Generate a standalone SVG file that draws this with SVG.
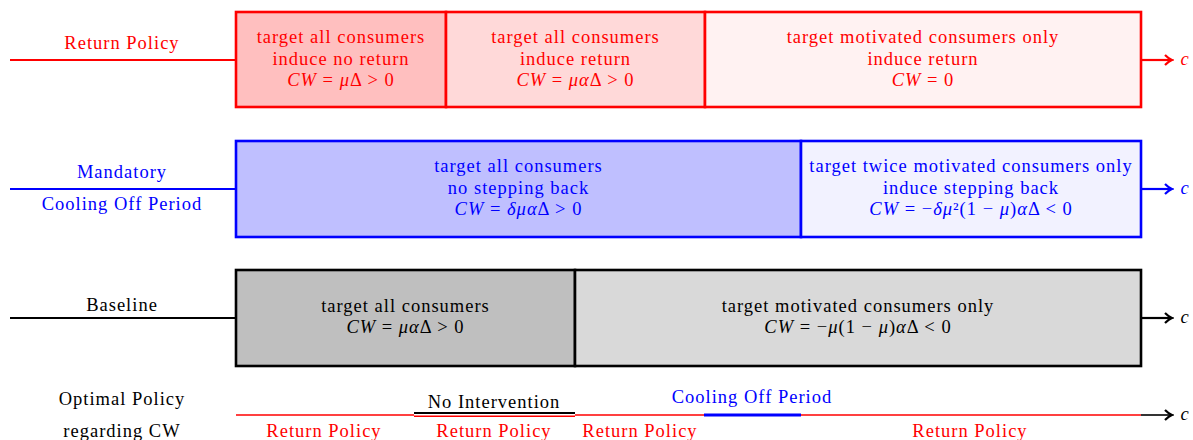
<svg xmlns="http://www.w3.org/2000/svg" width="1193" height="440" viewBox="0 0 1193 440">
<defs>
<marker id="arrR" markerWidth="10" markerHeight="12" refX="7" refY="6" orient="auto" markerUnits="userSpaceOnUse"><path d="M1,1 Q5,5 8,6 Q5,7 1,11" fill="none" stroke="#ff0000" stroke-width="2.2"/></marker>
<marker id="arrB" markerWidth="10" markerHeight="12" refX="7" refY="6" orient="auto" markerUnits="userSpaceOnUse"><path d="M1,1 Q5,5 8,6 Q5,7 1,11" fill="none" stroke="#0000ff" stroke-width="2.2"/></marker>
<marker id="arrK" markerWidth="10" markerHeight="12" refX="7" refY="6" orient="auto" markerUnits="userSpaceOnUse"><path d="M1,1 Q5,5 8,6 Q5,7 1,11" fill="none" stroke="#000000" stroke-width="2.2"/></marker>
</defs>
<style>
text{font-family:"Liberation Serif","Times New Roman",serif;font-size:18.5px;text-anchor:middle;letter-spacing:1px}
.r{fill:#ff0000}.b{fill:#0000ff}.k{fill:#000000}
.i{font-style:italic}
.box{stroke-width:2.6}
.rb{stroke:#ff0000}.bb{stroke:#0000ff}.kb{stroke:#000000}
</style>
<g id="connectors" fill="none">
<line x1="10" y1="60" x2="236" y2="60" stroke="#ff0000" stroke-width="2.2"/>
<line x1="1141" y1="60" x2="1171" y2="60" stroke="#ff0000" stroke-width="2.2" marker-end="url(#arrR)"/>
<line x1="10" y1="189" x2="236" y2="189" stroke="#0000ff" stroke-width="2.2"/>
<line x1="1141" y1="189" x2="1171" y2="189" stroke="#0000ff" stroke-width="2.2" marker-end="url(#arrB)"/>
<line x1="10" y1="318" x2="236" y2="318" stroke="#000000" stroke-width="2.2"/>
<line x1="1141" y1="318" x2="1171" y2="318" stroke="#000000" stroke-width="2.2" marker-end="url(#arrK)"/>
</g>
<g id="row-return">
<text class="r" x="122" y="49">Return Policy</text>
<g id="r1"><rect class="box rb" x="236" y="12" width="210" height="95" fill="#ffbfbf"/>
<text class="r" x="341" y="43">target all consumers</text>
<text class="r" x="341" y="65">induce no return</text>
<text class="r" x="341" y="86"><tspan class="i">CW</tspan> = <tspan class="i">μ</tspan>Δ &gt; 0</text></g>
<g id="r2"><rect class="box rb" x="446" y="12" width="259" height="95" fill="#ffd9d9"/>
<text class="r" x="575.5" y="43">target all consumers</text>
<text class="r" x="575.5" y="65">induce return</text>
<text class="r" x="575.5" y="86"><tspan class="i">CW</tspan> = <tspan class="i">μα</tspan>Δ &gt; 0</text></g>
<g id="r3"><rect class="box rb" x="705" y="12" width="436" height="95" fill="#fff2f2"/>
<text class="r" x="923" y="43">target motivated consumers only</text>
<text class="r" x="923" y="65">induce return</text>
<text class="r" x="923" y="86"><tspan class="i">CW</tspan> = 0</text></g>
<text class="r i" x="1185" y="65">c</text>
</g>
<g id="row-cooling">
<text class="b" x="122" y="178">Mandatory</text>
<text class="b" x="122" y="210">Cooling Off Period</text>
<g id="b1"><rect class="box bb" x="236" y="141" width="565" height="96" fill="#bfbfff"/>
<text class="b" x="518.5" y="172">target all consumers</text>
<text class="b" x="518.5" y="194">no stepping back</text>
<text class="b" x="518.5" y="215"><tspan class="i">CW</tspan> = <tspan class="i">δμα</tspan>Δ &gt; 0</text></g>
<g id="b2"><rect class="box bb" x="801" y="141" width="340" height="96" fill="#f2f2ff"/>
<text class="b" x="971" y="172">target twice motivated consumers only</text>
<text class="b" x="971" y="194">induce stepping back</text>
<text class="b" x="971" y="215"><tspan class="i">CW</tspan> = −<tspan class="i">δμ</tspan>²(1 − <tspan class="i">μ</tspan>)<tspan class="i">α</tspan>Δ &lt; 0</text></g>
<text class="b i" x="1185" y="194">c</text>
</g>
<g id="row-baseline">
<text class="k" x="122" y="311">Baseline</text>
<g id="k1"><rect class="box kb" x="236" y="270" width="339" height="96" fill="#bfbfbf"/>
<text class="k" x="405.5" y="312">target all consumers</text>
<text class="k" x="405.5" y="333"><tspan class="i">CW</tspan> = <tspan class="i">μα</tspan>Δ &gt; 0</text></g>
<g id="k2"><rect class="box kb" x="575" y="270" width="566" height="96" fill="#d9d9d9"/>
<text class="k" x="858" y="312">target motivated consumers only</text>
<text class="k" x="858" y="333"><tspan class="i">CW</tspan> = −<tspan class="i">μ</tspan>(1 − <tspan class="i">μ</tspan>)<tspan class="i">α</tspan>Δ &lt; 0</text></g>
<text class="k i" x="1185" y="323">c</text>
</g>
<g id="row-optimal">
<text class="k" x="122" y="405">Optimal Policy</text>
<text class="k" x="122" y="437">regarding CW</text>
<line x1="236" y1="415" x2="414" y2="415" stroke="#ff0000" stroke-width="1.6"/>
<line x1="414" y1="416.3" x2="575" y2="416.3" stroke="#ff0000" stroke-width="1.6"/>
<line x1="414" y1="413" x2="575" y2="413" stroke="#000000" stroke-width="1.8"/>
<line x1="575" y1="415" x2="704" y2="415" stroke="#ff0000" stroke-width="1.6"/>
<line x1="704" y1="415" x2="801" y2="415" stroke="#0000ff" stroke-width="3"/>
<line x1="801" y1="415" x2="1141" y2="415" stroke="#ff0000" stroke-width="1.6"/>
<line x1="1141" y1="415" x2="1171" y2="415" stroke="#000000" stroke-width="1.6" marker-end="url(#arrK)"/>
<text class="k" x="494" y="408">No Intervention</text>
<text class="b" x="752" y="403">Cooling Off Period</text>
<text class="r" x="324" y="437">Return Policy</text>
<text class="r" x="494" y="437">Return Policy</text>
<text class="r" x="640" y="437">Return Policy</text>
<text class="r" x="970" y="437">Return Policy</text>
<text class="k i" x="1185" y="420">c</text>
</g>
</svg>
